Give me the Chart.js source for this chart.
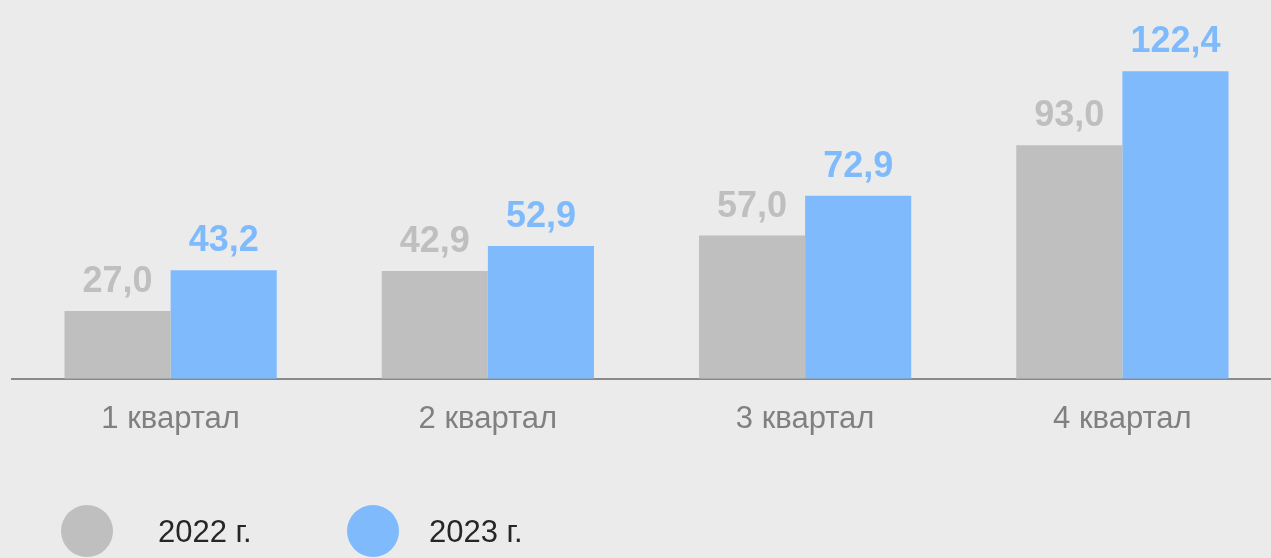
<!DOCTYPE html>
<html>
<head>
<meta charset="utf-8">
<script src="https://cdn.jsdelivr.net/npm/chart.js@4/dist/chart.umd.min.js"></script>
<style>
  html, body { margin: 0; padding: 0; background: #ebebeb; overflow: hidden; }
  #wrap { position: relative; width: 1281px; height: 558px; }
</style>
</head>
<body>
<div id="wrap"><canvas id="chart"></canvas></div>
<script>
// Chart data
const categories = ['1 квартал', '2 квартал', '3 квартал', '4 квартал'];
const seriesNames = ['2022 г.', '2023 г.'];
const values2022 = [27.0, 42.9, 57.0, 93.0];
const values2023 = [43.2, 52.9, 72.9, 122.4];

const GRAY = '#bfbfbf';
const BLUE = '#7fbbfc';
const FONT = "'Liberation Sans', Arial, sans-serif";

// value labels above the bars
const barLabels = {
    id: 'barLabels',
    afterDatasetsDraw(chart) {
        const ctx = chart.ctx;
        ctx.save();
        ctx.font = 'bold 36px ' + FONT;
        ctx.textAlign = 'center';
        ctx.textBaseline = 'alphabetic';
        chart.data.datasets.forEach((ds, i) => {
            chart.getDatasetMeta(i).data.forEach((bar, j) => {
                ctx.fillStyle = ds.backgroundColor;
                ctx.fillText(ds.data[j].toFixed(1).replace('.', ','), bar.x, bar.y - 19);
            });
        });
        ctx.restore();
    }
};

// legend drawn at the bottom left
const bottomLegend = {
    id: 'bottomLegend',
    afterDraw(chart) {
        const ctx = chart.ctx;
        const spots = [{ cx: 87, tx: 158 }, { cx: 373, tx: 429 }];
        ctx.save();
        ctx.font = '31px ' + FONT;
        ctx.textBaseline = 'middle';
        chart.data.datasets.forEach((ds, i) => {
            ctx.fillStyle = ds.backgroundColor;
            ctx.beginPath();
            ctx.arc(spots[i].cx, 531, 26, 0, Math.PI * 2);
            ctx.fill();
            ctx.fillStyle = '#262626';
            ctx.fillText(ds.label, spots[i].tx, 533);
        });
        ctx.restore();
    }
};

new Chart(document.getElementById('chart'), {
    type: 'bar',
    data: {
        labels: categories,
        datasets: [{
            label: seriesNames[0],
            data: values2022,
            backgroundColor: GRAY
        }, {
            label: seriesNames[1],
            data: values2023,
            backgroundColor: BLUE
        }]
    },
    options: {
        responsive: true,
        maintainAspectRatio: false,
        animation: false,
        categoryPercentage: 0.669,
        barPercentage: 1,
        layout: {
            padding: { left: 12, right: 0, top: 2, bottom: 98 }
        },
        plugins: {
            legend: { display: false },
            tooltip: { enabled: false }
        },
        scales: {
            x: {
                grid: { display: false, drawTicks: false },
                border: { color: '#8a8a8a', width: 2 },
                ticks: {
                    color: '#808080',
                    padding: 22,
                    font: { family: FONT, size: 31 }
                }
            },
            y: {
                display: false,
                min: 0,
                max: 150
            }
        }
    },
    plugins: [barLabels, bottomLegend]
});
</script>
</body>
</html>
